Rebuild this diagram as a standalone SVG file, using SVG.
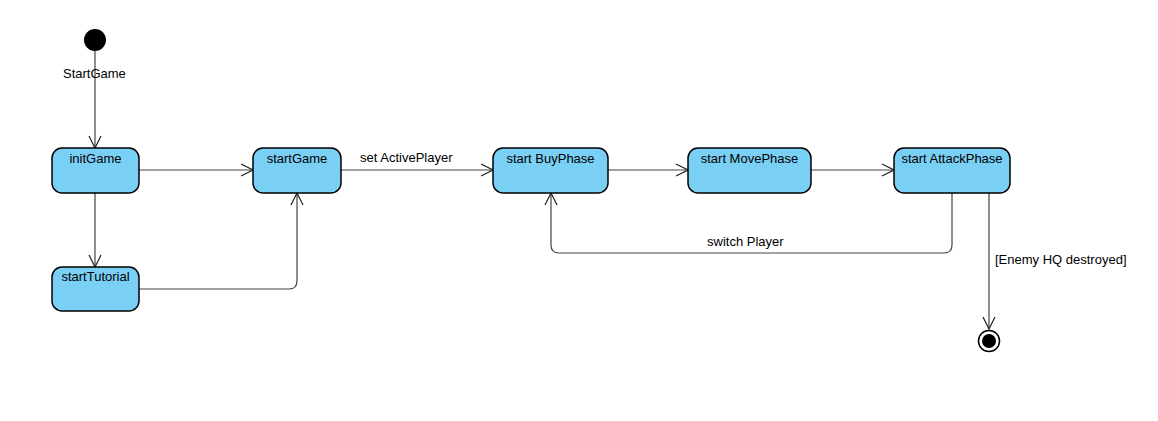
<svg xmlns="http://www.w3.org/2000/svg" width="1158" height="421" viewBox="0 0 1158 421">
<style>
.st rect{fill:#7acff5;stroke:#000;stroke-width:1.5}
text{font-family:"Liberation Sans",Arial,sans-serif;font-size:13px;fill:#000}
.st text{text-anchor:middle}
.conn path{fill:none;stroke:#444;stroke-width:1.2}
</style>
<defs>
<marker id="arr" viewBox="0 0 14 14" refX="13" refY="7" markerWidth="14" markerHeight="14" markerUnits="userSpaceOnUse" orient="auto">
<path d="M1,1 L13,7 L1,13" fill="none" stroke="#222" stroke-width="1.2"/>
</marker>
</defs>
<rect width="1158" height="421" fill="#fff"/>
<g id="start"><circle cx="95" cy="40" r="11" fill="#000"/></g>
<g class="conn">
<path d="M95,51 V148" marker-end="url(#arr)"/>
<path d="M139,170 H253" marker-end="url(#arr)"/>
<path d="M95,193 V267" marker-end="url(#arr)"/>
<path d="M139,289 H289 Q297,289 297,281 V193" marker-end="url(#arr)"/>
<path d="M341,170 H493" marker-end="url(#arr)"/>
<path d="M608,170 H688" marker-end="url(#arr)"/>
<path d="M811,170 H894" marker-end="url(#arr)"/>
<path d="M952,193 V245 Q952,253 944,253 H559 Q551,253 551,245 V193" marker-end="url(#arr)"/>
<path d="M989,193 V329" marker-end="url(#arr)"/>
<text x="63" y="78">StartGame</text>
<text x="360" y="162">set ActivePlayer</text>
<text x="707" y="246">switch Player</text>
<text x="995" y="264">[Enemy HQ destroyed]</text>
</g>
<g id="initGame" class="st"><rect x="52" y="148" width="87" height="45" rx="10"/><text x="95.5" y="163">initGame</text></g>
<g id="startGame" class="st"><rect x="253" y="148" width="88" height="45" rx="10"/><text x="297" y="163">startGame</text></g>
<g id="startTutorial" class="st"><rect x="52" y="267" width="87" height="44" rx="10"/><text x="95.5" y="281">startTutorial</text></g>
<g id="buyPhase" class="st"><rect x="493" y="148" width="115" height="45" rx="10"/><text x="550.5" y="163">start BuyPhase</text></g>
<g id="movePhase" class="st"><rect x="688" y="148" width="123" height="45" rx="10"/><text x="749.5" y="163">start MovePhase</text></g>
<g id="attackPhase" class="st"><rect x="894" y="148" width="116" height="45" rx="10"/><text x="952" y="163">start AttackPhase</text></g>
<g id="end"><circle cx="989" cy="341" r="10.5" fill="#fff" stroke="#000" stroke-width="1.5"/><circle cx="989" cy="341" r="7" fill="#000"/></g>
</svg>
